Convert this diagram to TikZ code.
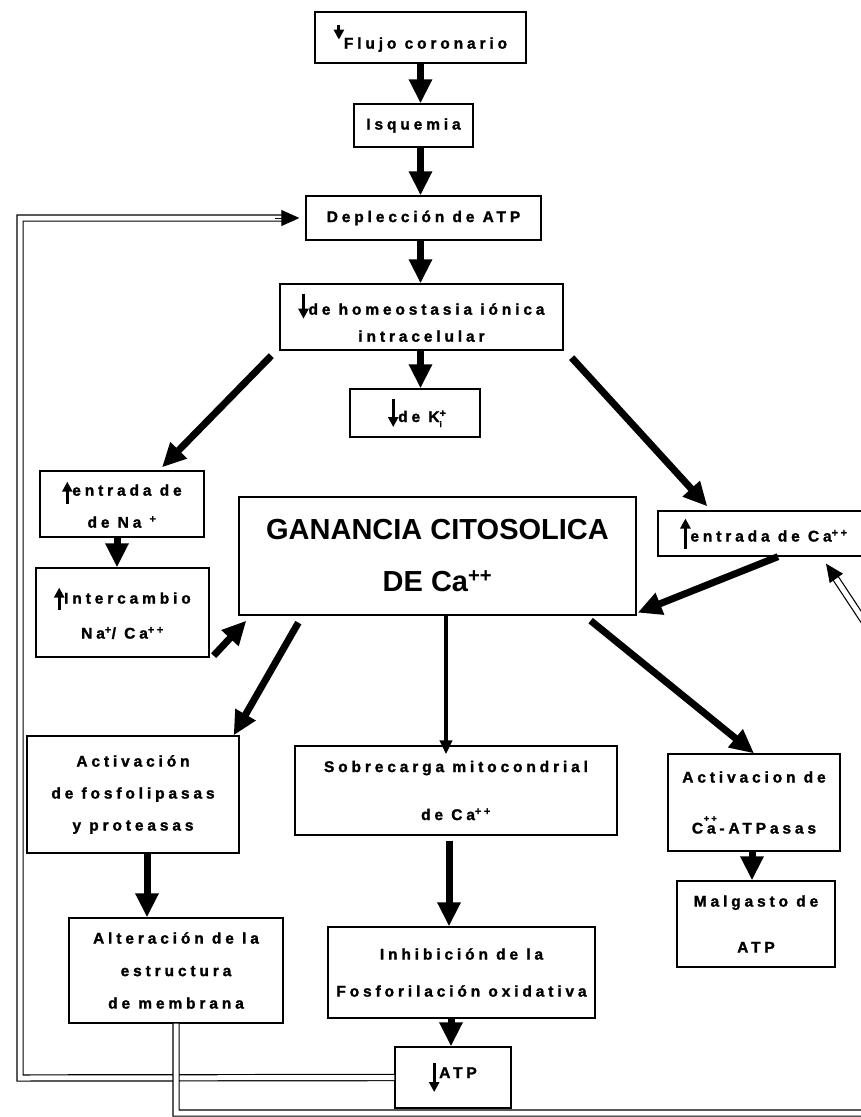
\documentclass[tikz,border=0pt]{standalone}
\usepackage{fontspec}
\setmainfont{Liberation Sans Bold}[LetterSpace=25, FakeBold=1.5]
\newfontfamily\titlefont{Liberation Sans Bold}
\usetikzlibrary{arrows.meta, calc}

\tikzset{
  arrsmall/.style={line width=3pt, -{Triangle[length=10pt,width=10pt]}}
}
\newcommand{\dnarr}[2]{\tikz[baseline=0pt]\draw[arrsmall] (0pt,#1pt) -- (0pt,#2pt);}
\newcommand{\uparr}[2]{\tikz[baseline=0pt]\draw[arrsmall] (0pt,#2pt) -- (0pt,#1pt);}

\begin{document}
\begin{tikzpicture}[x=1pt, y=-1pt,
box/.style={draw, line width=1.3pt, inner sep=2pt, align=center, font=\fontsize{15.5}{#1}\selectfont},
box/.default=30,
flecha/.style={line width=7pt, -{Triangle[length=24pt,width=22pt]}},
fina/.style={line width=4pt, -{Triangle[length=14pt,width=12pt]}},
lazo/.style={double, double distance=5pt, line width=1.2pt, shorten >=14pt},
punta/.style={line width=1pt, -{Triangle[length=18pt,width=16pt]}}
]
\useasboundingbox (0,0) rectangle (861,1117);
\fill[white] (0,0) rectangle (861,1117);
\clip (0,0) rectangle (861,1117);

% Cadena principal
\node[box, minimum width=211, minimum height=51] (flujo) at (420.5,37.5) {\dnarr{24}{9}Flujo coronario};
\node[box, minimum width=119, minimum height=43] (isq) at (413.5,125.5) {Isquemia};
\node[box, minimum width=235, minimum height=44] (deple) at (423.5,218) {Deplección de ATP};
\node[box=27, minimum width=283, minimum height=66] (homeo) at (421.5,317) {\dnarr{21}{-4}de homeostasia iónica\\intracelular};
\node[box, minimum width=130, minimum height=48] (kion) at (415,413) {\dnarr{23}{-5}de K\rlap{\textsuperscript{+}}\raisebox{-5pt}{\fontsize{8}{8}\selectfont i}};

% Entradas de iones
\node[box=32, minimum width=164, minimum height=66] (nain) at (122,504) {\uparr{14}{-8}entrada de\\de Na \textsuperscript{+}};
\node[box=35, minimum width=173, minimum height=89] (inter) at (122.5,612.5) {\uparr{16}{-6}Intercambio\\Na\textsuperscript{+}/ Ca\textsuperscript{++}};
\node[box, minimum width=212, minimum height=45] (cain) at (764,533.5) {\uparr{23}{-7}entrada de Ca\textsuperscript{++}};
\node[box, minimum width=397, minimum height=118, font=\titlefont\fontsize{29}{52}\selectfont] (ganan) at (437.5,556) {GANANCIA CITOSOLICA\\DE Ca\textsuperscript{++}};

% Consecuencias
\node[box=32, minimum width=212, minimum height=117] (fosfo) at (133,794.5) {Activación\\de fosfolipasas\\y proteasas};
\node[box=48, minimum width=322, minimum height=89] (sobre) at (456,790.5) {Sobrecarga mitocondrial\\de Ca\textsuperscript{++}};
\node[box=51, minimum width=172, minimum height=97] (atpasa) at (754,802.5) {Activacion de\\\makebox[0pt][l]{\kern12pt\raisebox{12pt}{\fontsize{9}{9}\selectfont ++}}Ca-ATPasas};
\node[box=46, minimum width=158, minimum height=86] (malga) at (756,924) {Malgasto de\\ATP};
\node[box=32.5, minimum width=214, minimum height=105] (alter) at (176,970.5) {Alteración de la\\estructura\\de membrana};
\node[box=37, minimum width=267, minimum height=91] (inhib) at (461.5,972.5) {Inhibición de la\\Fosforilación oxidativa};
\node[box, minimum width=116, minimum height=61] (atpd) at (453,1077.5) {\dnarr{15}{-14}ATP};

% Flechas
\draw[flecha] (flujo.south) -- (flujo.south |- isq.north);
\draw[flecha] (isq.south -| flujo.south) -- (deple.north -| flujo.south);
\draw[flecha] (deple.south -| flujo.south) -- (homeo.north -| flujo.south);
\draw[flecha] (homeo.south -| flujo.south) -- (kion.north -| flujo.south);
\draw[flecha] ([shift={(-8,5)}]homeo.south west) -- ([shift={(40,-3)}]nain.north);
\draw[flecha] ([shift={(8,7)}]homeo.south east) -- ([shift={(50,-4)}]cain.north west);
\draw[flecha] ([xshift=-5]nain.south) -- ([xshift=-5.5]inter.north);
\draw[flecha] ([shift={(4,-2)}]inter.south east) -- ([shift={(8,5)}]ganan.south west);
\draw[flecha] ([xshift=14]cain.south) -- ([shift={(1,-3)}]ganan.south east);
\draw[flecha] ([shift={(60,7)}]ganan.south west) -- ([xshift=-6]fosfo.north east);
\draw[fina] ([xshift=8.5]ganan.south) -- ([shift={(-10,9)}]sobre.north);
\draw[flecha] ([shift={(-46,5)}]ganan.south east) -- (atpasa.north);
\draw[flecha] ([xshift=-2]atpasa.south) -- ([xshift=-4]malga.north);
\draw[flecha] ([xshift=14]fosfo.south) -- ([xshift=-29]alter.north);
\draw[flecha] ([shift={(-7,5)}]sobre.south) -- ([xshift=-12.5]inhib.north);
\draw[flecha] ([xshift=-10.5]inhib.south) -- ([xshift=-2]atpd.north);

% Retroalimentacion
\coordinate (lz1) at (20,1078);
\coordinate (lz2) at (20,218);
\draw[lazo] (atpd.west) -- (lz1) -- (lz2) -- ([xshift=-6]deple.west);
\draw[punta] ([xshift=-30]deple.west) -- ([xshift=-6]deple.west);
\coordinate (lz3) at (176,1113);
\coordinate (lz4) at (885,1113);
\coordinate (lz5) at (885,653);
\coordinate (lz6) at (834,575);
\draw[lazo] (alter.south) -- (lz3) -- (lz4) -- (lz5) -- ([shift={(62,7)}]cain.south);
\draw[punta] (lz6) -- ([shift={(62,7)}]cain.south);

\end{tikzpicture}
\end{document}
